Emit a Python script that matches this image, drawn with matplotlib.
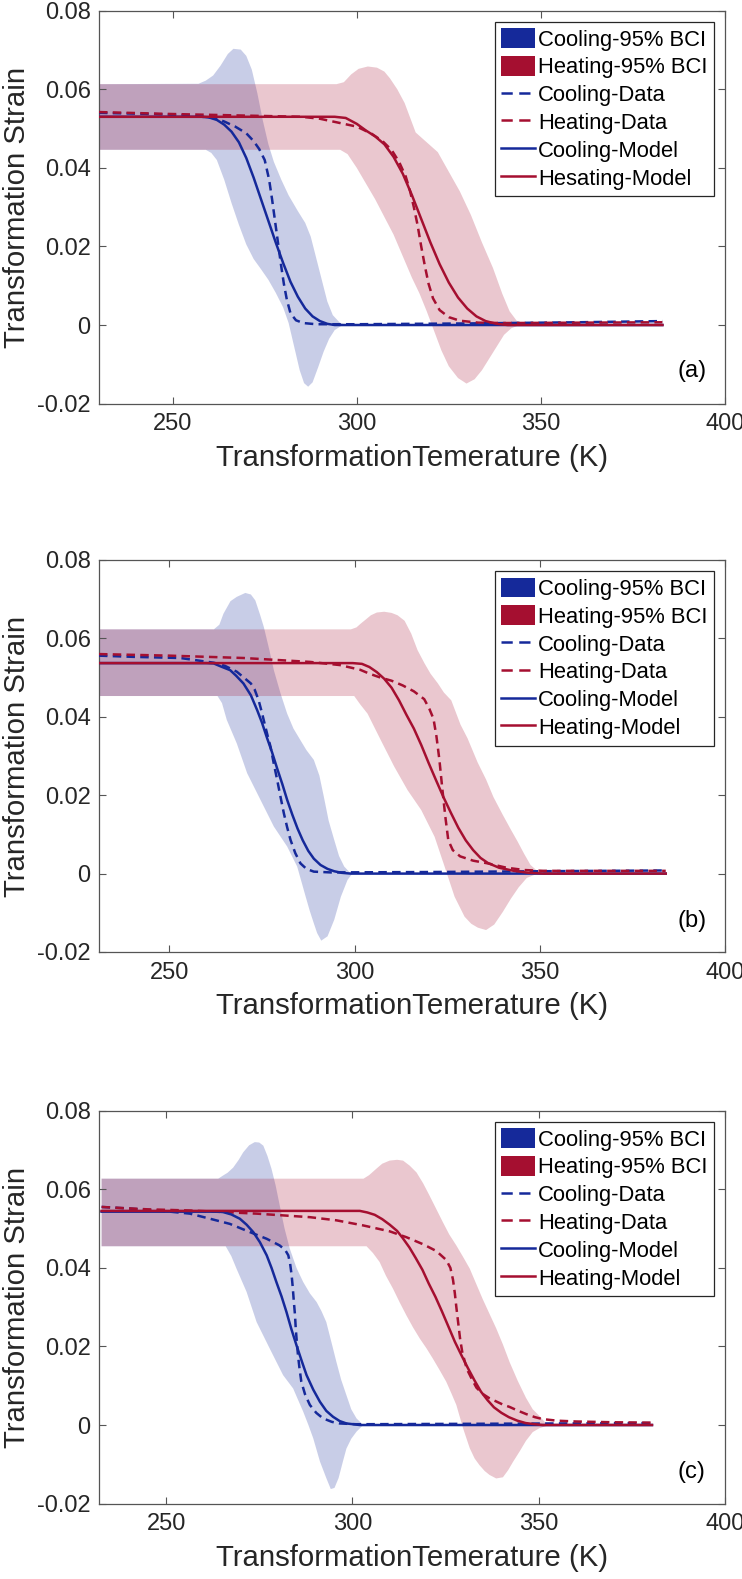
import numpy as np
import matplotlib
matplotlib.use('Agg')
import matplotlib.pyplot as plt
from matplotlib.patches import Patch
from matplotlib.lines import Line2D
from matplotlib.ticker import FixedLocator, FixedFormatter

plt.rcParams['font.family'] = ['Liberation Sans', 'DejaVu Sans']

# ---------------- tick labels ----------------
x_ticks = [250, 300, 350, 400]
x_tick_labels = ['250', '300', '350', '400']
y_ticks = [-0.02, 0, 0.02, 0.04, 0.06, 0.08]
y_tick_labels = ['-0.02', '0', '0.02', '0.04', '0.06', '0.08']
x_label = 'TransformationTemerature (K)'
y_label = 'Transformation Strain'
panel_tags = ['(a)', '(b)', '(c)']
legend_a = ['Cooling-95% BCI', 'Heating-95% BCI', 'Cooling-Data', 'Heating-Data',
            'Cooling-Model', 'Hesating-Model']
legend_bc = ['Cooling-95% BCI', 'Heating-95% BCI', 'Cooling-Data', 'Heating-Data',
             'Cooling-Model', 'Heating-Model']

# ---------------- panel (a) ----------------
a_cool_upper = [(230, 0.0613), (257, 0.0614), (259, 0.0622), (261, 0.0635), (263, 0.066),
                (265, 0.069), (266.5, 0.0703), (268.5, 0.0701), (270, 0.0685), (271.5, 0.065),
                (273, 0.059), (274.5, 0.052), (276, 0.046), (277.5, 0.0415), (279.5, 0.037),
                (281.5, 0.033), (284, 0.029), (286, 0.026), (287.5, 0.0225), (289, 0.017),
                (290.5, 0.0115), (292, 0.006), (293.5, 0.0025), (295.5, 0.0005), (297.5, 0.0),
                (383, 0.0)]
a_cool_lower = [(230, 0.0446), (259, 0.0446), (260.5, 0.0438), (262, 0.042), (264, 0.037),
                (266, 0.031), (268, 0.0255), (270, 0.0205), (272, 0.0168), (274, 0.0142),
                (276, 0.0115), (278, 0.0082), (280, 0.0045), (281.5, 0.0005), (283, -0.0055),
                (284.5, -0.0115), (285.7, -0.0148), (286.8, -0.0157), (288, -0.0146),
                (289.5, -0.0108), (291, -0.0068), (292.5, -0.0035), (294, -0.0013),
                (296, -0.0001), (297.5, 0.0), (383, 0.0)]
a_heat_upper = [(230, 0.0613), (294.5, 0.0613), (296.5, 0.0618), (298.5, 0.0638),
                (300.5, 0.0652), (303, 0.0658), (305.5, 0.0655), (307.5, 0.0645),
                (309, 0.0628), (311, 0.060), (313, 0.0565), (316, 0.049), (319, 0.0465),
                (322, 0.044), (325, 0.039), (328, 0.034), (331, 0.028), (334, 0.021),
                (337, 0.0145), (339.5, 0.008), (341.5, 0.0035), (343.5, 0.001), (345.5, 0.0),
                (383, 0.0)]
a_heat_lower = [(230, 0.0446), (295.5, 0.0446), (297.5, 0.0435), (300, 0.040), (302.5, 0.036),
                (305, 0.032), (307.5, 0.0275), (310, 0.023), (312.5, 0.0175), (315, 0.012),
                (317, 0.0081), (319, 0.0035), (321, -0.0015), (323, -0.0065), (325, -0.0105),
                (327.5, -0.0135), (329.8, -0.0149), (332, -0.0138), (334, -0.0115),
                (336, -0.0085), (338, -0.0055), (340, -0.0025), (342, -0.0008), (344.3, 0.0),
                (383, 0.0)]
a_cool_data = [(230, 0.054), (245, 0.0537), (255, 0.0533), (261, 0.0527), (264, 0.0518),
               (267, 0.0505), (270, 0.0488), (272, 0.0468), (273.5, 0.0448), (275, 0.042),
               (276.2, 0.037), (277, 0.032), (277.8, 0.0265), (278.6, 0.021), (279.4, 0.0155),
               (280.2, 0.0105), (281, 0.0065), (282, 0.003), (283.5, 0.0012), (285.5, 0.0005),
               (289, 0.0002), (300, 0.0002), (330, 0.0004), (360, 0.0007), (383, 0.001)]
a_heat_data = [(230, 0.0542), (250, 0.0537), (270, 0.0533), (285, 0.053), (290, 0.0525),
               (295, 0.0515), (300, 0.0505), (304, 0.0487), (307, 0.0468), (309.5, 0.0445),
               (311.5, 0.0415), (313.3, 0.0378), (314.5, 0.034), (315.5, 0.030),
               (316.5, 0.0255), (317.5, 0.020), (318.5, 0.015), (319.5, 0.0105),
               (320.7, 0.0068), (322.5, 0.0038), (325, 0.002), (328, 0.0011), (333, 0.0006),
               (340, 0.0005), (383, 0.0007)]
a_cool_model = [(230, 0.053), (258, 0.053), (260, 0.0528), (262, 0.0522), (264, 0.051),
                (266, 0.0492), (268, 0.0465), (270, 0.0425), (272, 0.0375), (274, 0.032),
                (276, 0.0265), (278, 0.021), (280, 0.0158), (282, 0.011), (284, 0.0072),
                (286, 0.0042), (288, 0.0022), (290, 0.001), (292, 0.0003), (294, 0.0),
                (383, 0.0)]
a_heat_model = [(230, 0.053), (294, 0.053), (297, 0.0527), (300, 0.0512), (302.5, 0.0495),
                (305, 0.048), (307.5, 0.046), (310, 0.0428), (312.5, 0.0385), (315, 0.033),
                (317.5, 0.027), (320, 0.021), (322.5, 0.0155), (325, 0.0108), (327.5, 0.007),
                (330, 0.0042), (332.5, 0.0022), (335, 0.001), (338, 0.0003), (341, 0.0),
                (383, 0.0)]

# ---------------- panel (b) ----------------
b_cool_upper = [(231, 0.0623), (262, 0.0623), (263.5, 0.0635), (264.6, 0.0663),
                (266.5, 0.0695), (268.2, 0.0706), (270.5, 0.0716), (272, 0.0712),
                (273.2, 0.0697), (274.5, 0.066), (275.5, 0.0629), (277, 0.057),
                (278.2, 0.0519), (280, 0.046), (281.8, 0.0408), (283.5, 0.037),
                (285.4, 0.034), (287, 0.0315), (289, 0.029), (290.5, 0.025), (291.7, 0.0196),
                (293, 0.0135), (294.5, 0.0086), (295.8, 0.0045), (297.2, 0.0018),
                (298.5, 0.0005), (299.4, 0.0), (384, 0.0)]
b_cool_lower = [(231, 0.0453), (263, 0.0453), (264.2, 0.0435), (265.5, 0.0392),
                (268.2, 0.0332), (271, 0.0256), (274.6, 0.0188), (278.2, 0.012),
                (281.8, 0.0069), (284.5, 0.0018), (286.8, -0.0059), (287.9, -0.0095),
                (289, -0.0127), (289.9, -0.0152), (291, -0.0171), (292.7, -0.016),
                (294.5, -0.0118), (296.3, -0.0059), (298.1, -0.0016), (299.4, 0.0), (384, 0.0)]
b_heat_upper = [(231, 0.0623), (299, 0.0623), (300.5, 0.0628), (301.7, 0.0638), (303, 0.0648),
                (304.4, 0.0659), (306, 0.0666), (308, 0.0668), (310, 0.0665), (311.6, 0.0659),
                (313.5, 0.0645), (315.3, 0.0612), (317, 0.057), (318.9, 0.0536),
                (320.5, 0.051), (322.5, 0.0485), (324.1, 0.0462), (326.1, 0.0442),
                (328.6, 0.038), (330.5, 0.0345), (333.2, 0.0284), (335.5, 0.024),
                (337.5, 0.0195), (340, 0.015), (342.2, 0.0112), (344, 0.0082), (345.8, 0.005),
                (347.5, 0.0022), (349.4, 0.0006), (351.2, 0.0), (384, 0.0)]
b_heat_lower = [(231, 0.0453), (299.9, 0.0453), (301.5, 0.0432), (303.5, 0.0408),
                (307.1, 0.034), (310.7, 0.0273), (314.3, 0.0213), (318, 0.0162),
                (321.6, 0.0094), (324.3, 0.0018), (327, -0.0059), (329.7, -0.011),
                (331.5, -0.0128), (333.3, -0.0138), (335.5, -0.0144), (337.7, -0.013),
                (340, -0.0098), (342.2, -0.0064), (344.3, -0.0035), (346.5, -0.0011),
                (349.4, 0.0), (384, 0.0)]
b_cool_data = [(231, 0.0556), (240, 0.0553), (252.9, 0.055), (262, 0.0538), (265, 0.053),
               (268.2, 0.0515), (270.5, 0.0497), (272, 0.0485), (273, 0.047), (274.1, 0.0442),
               (275, 0.041), (275.9, 0.0375), (276.7, 0.0345), (277.3, 0.0324),
               (278.2, 0.028), (279.1, 0.0239), (280, 0.0196), (280.9, 0.0154),
               (281.8, 0.0118), (282.7, 0.0086), (284, 0.0052), (285.4, 0.0026), (287, 0.0012),
               (289, 0.0005), (293.6, 0.0003), (320, 0.0004), (350, 0.0006), (384, 0.0008)]
b_heat_data = [(231, 0.056), (250, 0.0556), (270, 0.055), (288, 0.054), (296, 0.0532),
               (301.5, 0.052), (304, 0.051), (307, 0.050), (310, 0.0492), (313, 0.048),
               (316, 0.0465), (318.8, 0.0445), (320.2, 0.042), (321.3, 0.0395),
               (322.1, 0.035), (322.9, 0.029), (323.7, 0.0215), (324.5, 0.0145),
               (325.3, 0.0085), (326.5, 0.006), (328.5, 0.0044), (332, 0.0033), (336, 0.0026),
               (341, 0.0015), (346, 0.0009), (351, 0.0007), (384, 0.0007)]
b_cool_model = [(231, 0.0537), (260, 0.0537), (262, 0.0536), (264, 0.0528), (266.4, 0.0519),
                (268, 0.0505), (270, 0.0485), (272, 0.0455), (273.7, 0.0417), (275, 0.0385),
                (276.4, 0.0345), (277.7, 0.031), (279.1, 0.0268), (280.5, 0.0228),
                (281.8, 0.0188), (283.2, 0.015), (284.6, 0.0115), (286, 0.0085),
                (287.5, 0.0058), (289, 0.0038), (290.8, 0.0022), (292.7, 0.0012),
                (294.5, 0.0006), (296.5, 0.0002), (299, 0.0), (384, 0.0)]
b_heat_model = [(231, 0.0537), (299.5, 0.0537), (302, 0.0535), (304, 0.0527), (306, 0.0514),
                (308, 0.0497), (310, 0.0474), (312, 0.0442), (314, 0.0405), (316, 0.037),
                (318, 0.0328), (320, 0.0282), (322, 0.0238), (324, 0.0195), (326, 0.0155),
                (328, 0.0117), (330, 0.0085), (332, 0.006), (334, 0.004), (336, 0.0027),
                (339, 0.0015), (343, 0.0007), (347, 0.0002), (351, 0.0), (384, 0.0)]

# ---------------- panel (c) ----------------
c_cool_upper = [(232.7, 0.0627), (264, 0.0627), (265.3, 0.0635), (266.5, 0.0642),
                (268, 0.0655), (269.5, 0.0675), (270.7, 0.0694), (272.3, 0.0712),
                (273.8, 0.072), (275, 0.0719), (276.1, 0.0711), (277.2, 0.0685),
                (278.3, 0.0652), (279.4, 0.061), (280.5, 0.0559), (281.8, 0.050),
                (283.2, 0.0449), (285, 0.040), (286.8, 0.0364), (288.6, 0.0335),
                (290.4, 0.0313), (291.7, 0.029), (293, 0.0262), (294.4, 0.021),
                (295.7, 0.0161), (297, 0.0115), (298.4, 0.0076), (299.7, 0.004),
                (301.1, 0.0017), (302.9, 0.0), (380.4, 0.0)]
c_cool_lower = [(232.7, 0.0455), (266, 0.0455), (267.5, 0.043), (268.9, 0.0398),
                (271.6, 0.0339), (274.3, 0.0262), (277.8, 0.0195), (281.4, 0.0127),
                (284.1, 0.0093), (286.8, 0.0034), (288.2, 0.0), (289.5, -0.0034),
                (291.3, -0.0093), (293, -0.0135), (294.2, -0.0163), (295.2, -0.016),
                (296.3, -0.0135), (297.4, -0.0095), (298.4, -0.006), (299.7, -0.0035),
                (301.1, -0.0017), (302.9, 0.0), (380.4, 0.0)]
c_heat_upper = [(232.7, 0.0627), (303, 0.0627), (304.5, 0.0636), (306.4, 0.0652),
                (308, 0.0665), (310, 0.0673), (312, 0.0675), (313.6, 0.0673), (315.4, 0.066),
                (317.2, 0.0643), (319, 0.0615), (320.7, 0.0584), (322.5, 0.055),
                (324.3, 0.0516), (326, 0.0485), (327.9, 0.0457), (329.7, 0.0428),
                (331.5, 0.0398), (333.2, 0.036), (335, 0.032), (336.8, 0.0283),
                (338.6, 0.0246), (340.4, 0.0205), (342.2, 0.016), (344.4, 0.0112),
                (346.6, 0.0069), (348.4, 0.004), (350.2, 0.0023), (351.6, 0.0008),
                (352.9, 0.0), (380.4, 0.0)]
c_heat_lower = [(232.7, 0.0455), (303.8, 0.0455), (305.5, 0.0438), (307.3, 0.0415),
                (309, 0.038), (310.9, 0.0347), (312.7, 0.0312), (314.5, 0.0279),
                (316.3, 0.0248), (318.1, 0.022), (319.9, 0.0195), (321.6, 0.0169),
                (323.4, 0.014), (325.2, 0.011), (326.6, 0.008), (327.9, 0.0051),
                (329.7, -0.0008), (331.5, -0.0059), (332.8, -0.0085), (334.1, -0.0102),
                (335.5, -0.0117), (336.8, -0.0127), (338.6, -0.0136), (340.4, -0.0133),
                (341.8, -0.0115), (343.1, -0.0094), (344.9, -0.0067), (346.6, -0.004),
                (348.4, -0.0018), (350.2, -0.0008), (352.9, 0.0), (380.4, 0.0)]
c_cool_data = [(232.7, 0.0555), (240, 0.0551), (250, 0.0544), (256.4, 0.0538),
               (261.8, 0.0525), (267.1, 0.0512), (272.5, 0.0491), (277, 0.0474),
               (280.5, 0.0457), (282, 0.0445), (282.8, 0.0432), (283.3, 0.041),
               (283.7, 0.0381), (284, 0.035), (284.3, 0.0313), (284.6, 0.028),
               (284.8, 0.0246), (285.1, 0.021), (285.4, 0.0178), (285.8, 0.0145),
               (286.3, 0.011), (287.3, 0.0078), (288.6, 0.0051), (290.3, 0.0031),
               (292.1, 0.0017), (294.5, 0.0008), (296.6, 0.0004), (301, 0.0002),
               (330, 0.0003), (380.4, 0.0005)]
c_heat_data = [(232.7, 0.0555), (245, 0.0549), (256.4, 0.0546), (274.3, 0.0538),
               (288.6, 0.0529), (295.7, 0.0521), (302.9, 0.0508), (310, 0.0493),
               (314.5, 0.0478), (319, 0.046), (322.5, 0.0443), (325.2, 0.042),
               (326.3, 0.040), (327, 0.037), (327.5, 0.0335), (327.9, 0.030),
               (328.4, 0.026), (328.9, 0.022), (329.5, 0.0185), (330.7, 0.0143),
               (332, 0.0118), (333.3, 0.0095), (335, 0.0079), (336.8, 0.0068),
               (338.6, 0.006), (340.4, 0.0052), (342.2, 0.0046), (344.3, 0.0037),
               (346.6, 0.0028), (349, 0.002), (351.1, 0.0015), (355, 0.0011), (360, 0.0009),
               (370, 0.0007), (380.4, 0.0006)]
c_cool_model = [(232.7, 0.0543), (264, 0.0543), (265.3, 0.0542), (267.5, 0.0536),
                (269.8, 0.0525), (271.6, 0.051), (273.4, 0.0491), (275.2, 0.0465),
                (277, 0.0432), (278.3, 0.04), (279.6, 0.0364), (281, 0.0327),
                (282.3, 0.0288), (283.6, 0.0245), (285, 0.0203), (286.4, 0.0163),
                (287.7, 0.0127), (289.5, 0.009), (291.3, 0.0059), (293, 0.0036),
                (294.8, 0.0021), (296.6, 0.001), (298.4, 0.0004), (302, 0.0), (380.4, 0.0)]
c_heat_model = [(232.7, 0.0545), (302, 0.0545), (304, 0.0541), (306, 0.0535), (308, 0.0524),
                (310, 0.051), (312, 0.0494), (313.5, 0.0476), (315.3, 0.0452), (317, 0.0425),
                (318.8, 0.0395), (320.5, 0.036), (322.3, 0.0326), (324, 0.029),
                (325.8, 0.025), (327.5, 0.0212), (329.3, 0.0177), (331, 0.0145),
                (332.8, 0.0113), (334.5, 0.0085), (336.3, 0.0063), (338, 0.0045),
                (340, 0.0031), (342, 0.002), (344.3, 0.0011), (346.5, 0.0005), (349, 0.0002),
                (351, 0.0), (380.4, 0.0)]

x_limits = [(230, 400), (231, 400), (232, 400)]
y_limits = (-0.02, 0.08)

BLUE = '#15299a'
RED = '#a50f30'
TXT = '#262626'
BAND_ALPHA = 0.23

W, H = 742, 1579
fig = plt.figure(figsize=(W / 100, H / 100), dpi=100)
fig.patch.set_facecolor('white')

# axes boxes in pixels: (left, top, right, bottom)
boxes = [(99, 10.7, 725, 403.6), (99, 560, 725, 952), (99, 1110.7, 725, 1503.6)]
tag_y = [0.083, 0.079, 0.080]

panels = [
    (a_cool_upper, a_cool_lower, a_heat_upper, a_heat_lower, a_cool_data, a_heat_data,
     a_cool_model, a_heat_model, legend_a),
    (b_cool_upper, b_cool_lower, b_heat_upper, b_heat_lower, b_cool_data, b_heat_data,
     b_cool_model, b_heat_model, legend_bc),
    (c_cool_upper, c_cool_lower, c_heat_upper, c_heat_lower, c_cool_data, c_heat_data,
     c_cool_model, c_heat_model, legend_bc),
]


def xy(pts):
    a = np.asarray(pts, dtype=float)
    return a[:, 0], a[:, 1]


def band(ax, upper, lower, color):
    tu, vu = xy(upper)
    tl, vl = xy(lower)
    ax.fill(np.concatenate([tu, tl[::-1]]), np.concatenate([vu, vl[::-1]]),
            color=color, alpha=BAND_ALPHA, lw=0, zorder=1)


for i, (box, p) in enumerate(zip(boxes, panels)):
    l, t, r, b = box
    ax = fig.add_axes([l / W, 1 - b / H, (r - l) / W, (b - t) / H])
    cu, cl, hu, hl, cd, hd, cm, hm, labels = p
    band(ax, cu, cl, BLUE)
    band(ax, hu, hl, RED)
    dash = (3.4, 2.1)
    ax.plot(*xy(cd), color=BLUE, lw=1.8, dashes=dash, zorder=3)
    ax.plot(*xy(hd), color=RED, lw=1.8, dashes=dash, zorder=3)
    ax.plot(*xy(cm), color=BLUE, lw=1.8, zorder=4)
    ax.plot(*xy(hm), color=RED, lw=1.8, zorder=4)

    ax.set_xlim(*x_limits[i])
    ax.set_ylim(*y_limits)
    ax.xaxis.set_major_locator(FixedLocator(x_ticks))
    ax.xaxis.set_major_formatter(FixedFormatter(x_tick_labels))
    ax.yaxis.set_major_locator(FixedLocator(y_ticks))
    ax.yaxis.set_major_formatter(FixedFormatter(y_tick_labels))
    ax.tick_params(direction='in', length=5, width=0.8, colors='#555555',
                   labelcolor=TXT, labelsize=17, top=True, right=True)
    ax.tick_params(axis='x', pad=7)
    ax.tick_params(axis='y', pad=6)
    for s in ax.spines.values():
        s.set_color('#555555')
        s.set_linewidth(0.9)

    ax.set_xlabel(x_label, fontsize=21.2, color=TXT, va='top')
    ax.xaxis.set_label_coords(0.5, -0.102)
    ax.set_ylabel(y_label, fontsize=21.2, color=TXT)
    ax.yaxis.set_label_coords(-0.108, 0.5)

    ax.text(0.947, tag_y[i], panel_tags[i], transform=ax.transAxes, ha='center',
            va='center', fontsize=17, color='black')

    handles = [Patch(facecolor=BLUE, edgecolor='none'),
               Patch(facecolor=RED, edgecolor='none'),
               Line2D([], [], color=BLUE, lw=1.8, dashes=(4.5, 2.6)),
               Line2D([], [], color=RED, lw=1.8, dashes=(4.5, 2.6)),
               Line2D([], [], color=BLUE, lw=1.8),
               Line2D([], [], color=RED, lw=1.8)]
    leg = ax.legend(handles, labels, loc='upper right', fontsize=15.8,
                    handlelength=1.55, handleheight=1.0, handletextpad=0.12,
                    labelspacing=0.25, borderpad=0.3, borderaxespad=0.5,
                    fancybox=False, framealpha=1, edgecolor=TXT)
    leg.get_frame().set_linewidth(0.9)
    for txt in leg.get_texts():
        txt.set_color('black')

fig.savefig('out.png', dpi=100, facecolor='white')
